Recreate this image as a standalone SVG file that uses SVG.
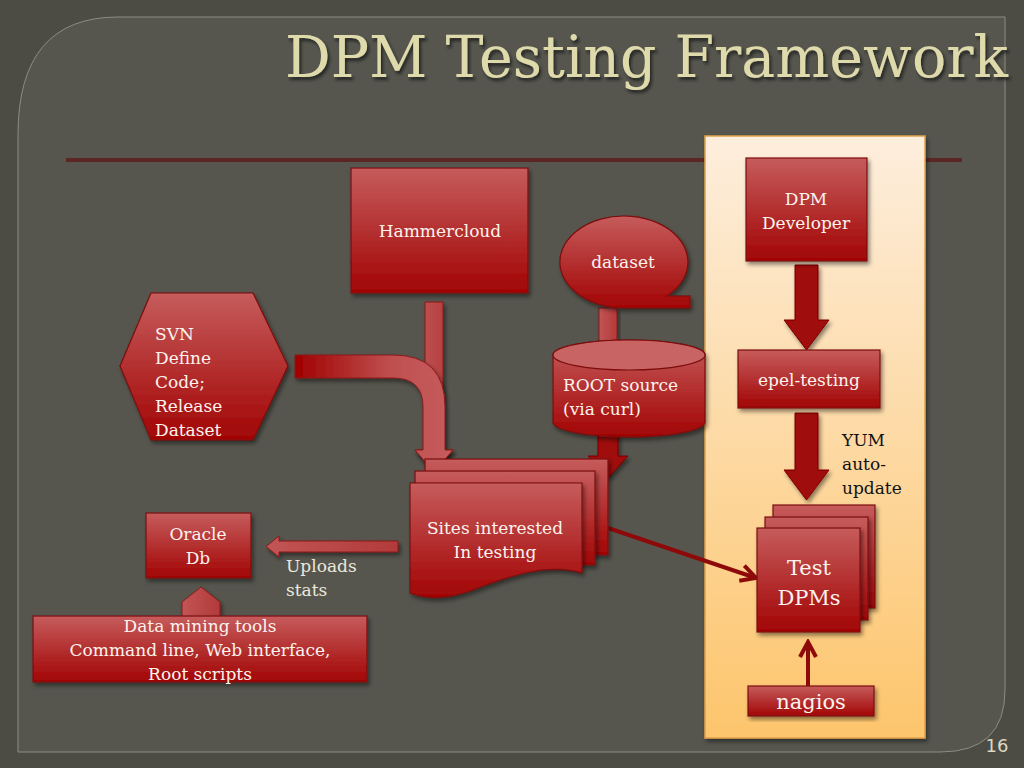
<svg xmlns="http://www.w3.org/2000/svg" width="1024" height="768" viewBox="0 0 1024 768">
<defs>
<linearGradient id="red" x1="0" y1="0" x2="0" y2="1">
<stop offset="0" stop-color="#c65c5c"/>
<stop offset="1" stop-color="#a20404"/>
</linearGradient>
<linearGradient id="redH" x1="0" y1="0" x2="1" y2="0">
<stop offset="0" stop-color="#a00000"/>
<stop offset="0.6" stop-color="#bf4f4f"/>
<stop offset="1" stop-color="#c65c5c"/>
</linearGradient>
<linearGradient id="arrowRed" x1="0" y1="0" x2="1" y2="0">
<stop offset="0" stop-color="#c25555"/>
<stop offset="1" stop-color="#b23a3a"/>
</linearGradient>
<linearGradient id="panel" x1="0" y1="0" x2="0" y2="1">
<stop offset="0" stop-color="#fdeedd"/>
<stop offset="1" stop-color="#fdc56c"/>
</linearGradient>
<filter id="sh" x="-20%" y="-20%" width="140%" height="140%">
<feDropShadow dx="2" dy="3" stdDeviation="2" flood-color="#000" flood-opacity="0.45"/>
</filter>
<filter id="tsh" x="-5%" y="-20%" width="110%" height="140%">
<feDropShadow dx="2" dy="3" stdDeviation="1.5" flood-color="#1e1e1a" flood-opacity="0.8"/>
</filter>
<marker id="chev" viewBox="0 0 10 10" refX="8.5" refY="5" markerWidth="5" markerHeight="5" orient="auto" markerUnits="strokeWidth">
<path d="M1,1 L8.5,5 L1,9" fill="none" stroke="#8e0a0a" stroke-width="2"/>
</marker>
<style>
.node{fill:url(#red);stroke:#7c0d0d;stroke-width:1.2;filter:url(#sh)}
.blk{fill:url(#arrowRed);stroke:#8a1a1a;stroke-width:1;filter:url(#sh)}
.dark{fill:#a00a0a;stroke:#7c0000;stroke-width:1;filter:url(#sh)}
.t{font-family:"DejaVu Serif","Liberation Serif",serif;font-size:17px;fill:#fbf3ee}
.big{font-size:21px}
.c{text-anchor:middle}
.lab{font-family:"DejaVu Serif","Liberation Serif",serif;font-size:17px}
.line{stroke:#8e0a0a;stroke-width:4;fill:none;marker-end:url(#chev)}
</style>
</defs>

<!-- background -->
<rect x="0" y="0" width="1024" height="768" fill="#4c4c45"/>
<path d="M18,752 V135 Q18,17 118,17 H1005 V690 Q1005,752 940,752 Z" fill="#56564f" stroke="#8c8c80" stroke-width="1"/>
<line x1="66" y1="160" x2="962" y2="160" stroke="#5c2624" stroke-width="4"/>

<text x="1008" y="77" text-anchor="end" font-family="DejaVu Serif,Liberation Serif,serif" font-size="57" fill="#dfdaab" filter="url(#tsh)">DPM Testing Framework</text>

<!-- yellow panel -->
<rect x="705" y="136" width="220" height="602" fill="url(#panel)" stroke="#e1a24a" stroke-width="1.5" filter="url(#sh)"/>

<!-- connectors -->
<g id="connectors">
<path class="blk" d="M425,302 H443 V450 H453 L434,472 L415,450 H425 Z"/>
<path d="M295,355 H393 Q445,355 445,407 V450 H453 L434,472 L415,450 H423 V407 Q423,378 393,378 H295 Z" fill="url(#redH)" stroke="#8a1a1a" stroke-width="1" filter="url(#sh)"/>
<rect class="blk" x="599" y="308" width="18" height="36"/>
<path class="dark" d="M598,432 H618 V456 H628 L608,478 L588,456 H598 Z"/>
<path class="blk" d="M398,541 H279 V536 L266,546.5 L279,557 V552 H398 Z"/>
<path class="blk" d="M182,618 V602 L201,587 L220,602 V618 Z"/>
<path class="dark" d="M795,265 H818 V320 H829 L806.5,350 L784,320 H795 Z"/>
<path class="dark" d="M795,413 H818 V470 H829 L806.5,500 L784,470 H795 Z"/>
<line class="line" x1="608" y1="528" x2="756" y2="578"/>
<line class="line" x1="808" y1="686" x2="808" y2="642"/>
</g>

<g id="hammercloud">
<rect class="node" x="351" y="168" width="177" height="125"/>
<text class="t c" x="440" y="237">Hammercloud</text>
</g>

<g id="dataset">
<path class="node" d="M624,308 A64,46 0 1 1 667,296 H690 V308 Z"/>
<text class="t c" x="623" y="268">dataset</text>
</g>

<g id="root-source">
<path class="node" d="M553,355 A76,15 0 0 1 705,355 V422 A76,15 0 0 1 553,422 Z"/>
<ellipse cx="629" cy="355" rx="76" ry="15" fill="#c96464" stroke="#7c0d0d" stroke-width="1.2"/>
<text class="t" x="563" y="391">ROOT source</text>
<text class="t" x="563" y="415">(via curl)</text>
</g>

<g id="svn">
<polygon class="node" points="120,366 151,293 253,293 288,366 253,440 151,440"/>
<text class="t" x="155" y="340">SVN</text>
<text class="t" x="155" y="364">Define</text>
<text class="t" x="155" y="388">Code;</text>
<text class="t" x="155" y="412">Release</text>
<text class="t" x="155" y="436">Dataset</text>
</g>

<g id="sites">
<rect class="node" x="425" y="459" width="183" height="96"/>
<rect class="node" x="415" y="471" width="180" height="94"/>
<path class="node" d="M410,483 H582 V573 C545,562 505,578 470,591 C445,600 425,599 410,593 Z"/>
<text class="t c" x="495" y="534">Sites interested</text>
<text class="t c" x="495" y="558">In testing</text>
</g>

<g id="oracle">
<rect class="node" x="146" y="513" width="105" height="65"/>
<text class="t c" x="198" y="540">Oracle</text>
<text class="t c" x="198" y="564">Db</text>
</g>

<text class="lab" x="286" y="572" fill="#ece8dc">Uploads</text>
<text class="lab" x="286" y="596" fill="#ece8dc">stats</text>

<g id="datamining">
<rect class="node" x="33" y="616" width="334" height="66"/>
<text class="t c" x="200" y="632">Data mining tools</text>
<text class="t c" x="200" y="656">Command line, Web interface,</text>
<text class="t c" x="200" y="680">Root scripts</text>
</g>

<g id="dpm-developer">
<rect class="node" x="746" y="158" width="121" height="103"/>
<text class="t c" x="806" y="205">DPM</text>
<text class="t c" x="806" y="229">Developer</text>
</g>

<g id="epel-testing">
<rect class="node" x="738" y="350" width="142" height="58"/>
<text class="t c" x="809" y="386">epel-testing</text>
</g>

<text class="lab" x="842" y="446" fill="#111">YUM</text>
<text class="lab" x="842" y="470" fill="#111">auto-</text>
<text class="lab" x="842" y="494" fill="#111">update</text>

<g id="test-dpms">
<rect class="node" x="773" y="505" width="102" height="103"/>
<rect class="node" x="765" y="517" width="103" height="103"/>
<rect class="node" x="757" y="528" width="103" height="104"/>
<text class="t c big" x="809" y="575">Test</text>
<text class="t c big" x="809" y="605">DPMs</text>
</g>

<g id="nagios">
<rect class="node" x="748" y="686" width="126" height="30"/>
<text class="t c big" x="811" y="709">nagios</text>
</g>

<text x="997" y="752" text-anchor="middle" font-family="DejaVu Sans,Liberation Sans,sans-serif" font-size="18" fill="#dcd8c4">16</text>
</svg>
